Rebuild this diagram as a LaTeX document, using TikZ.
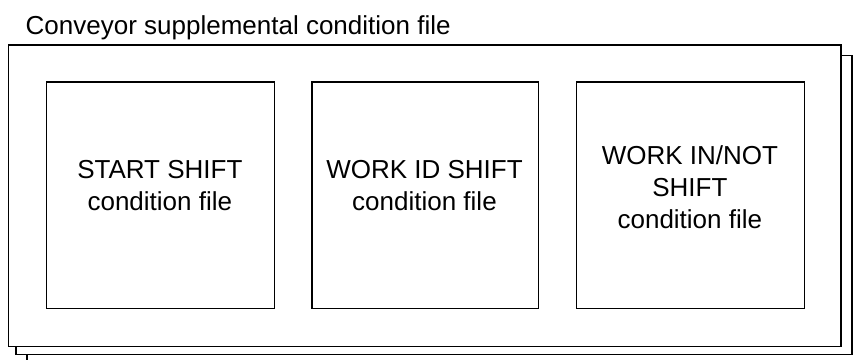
\documentclass[tikz,border=0pt]{standalone}
\usepackage{fontspec}
\setmainfont{Liberation Sans}
\begin{document}
\begin{tikzpicture}[x=1pt,y=1pt, line width=1.4pt,
  sheet/.style={draw=black, fill=white},
  filebox/.style={draw=black, fill=white, inner sep=0pt, anchor=south west,
                  minimum width=228.3pt, minimum height=226.6pt},
  lbl/.style={inner sep=0pt, align=center, font=\fontsize{26}{32}\selectfont}]
\useasboundingbox (0,0) rectangle (853,359);
\clip (0,0) rectangle (853,359);
% stacked sheets
\path[sheet] (27,-20) rectangle (880,293);
\path[sheet] (16,4.5) rectangle (852,303.5);
\path[sheet] (8.5,12.5) rectangle (841,314);
% title
\node[lbl, anchor=base west] (title) at (25,324.7) {Conveyor supplemental condition file};
% inner files
\node[filebox] (b1) at (45.7,49.7) {};
\node[filebox, minimum width=226.4pt] (b2) at (311.3,49.7) {};
\node[filebox] (b3) at (575.7,49.7) {};
\node[lbl] (t1) at (159.85,173) {START SHIFT\\condition file};
\node[lbl] (t2) at (424.5,173) {WORK ID SHIFT\\condition file};
\node[lbl] (t3) at (689.85,171.8) {WORK IN/NOT\\SHIFT\\condition file};
\end{tikzpicture}
\end{document}
